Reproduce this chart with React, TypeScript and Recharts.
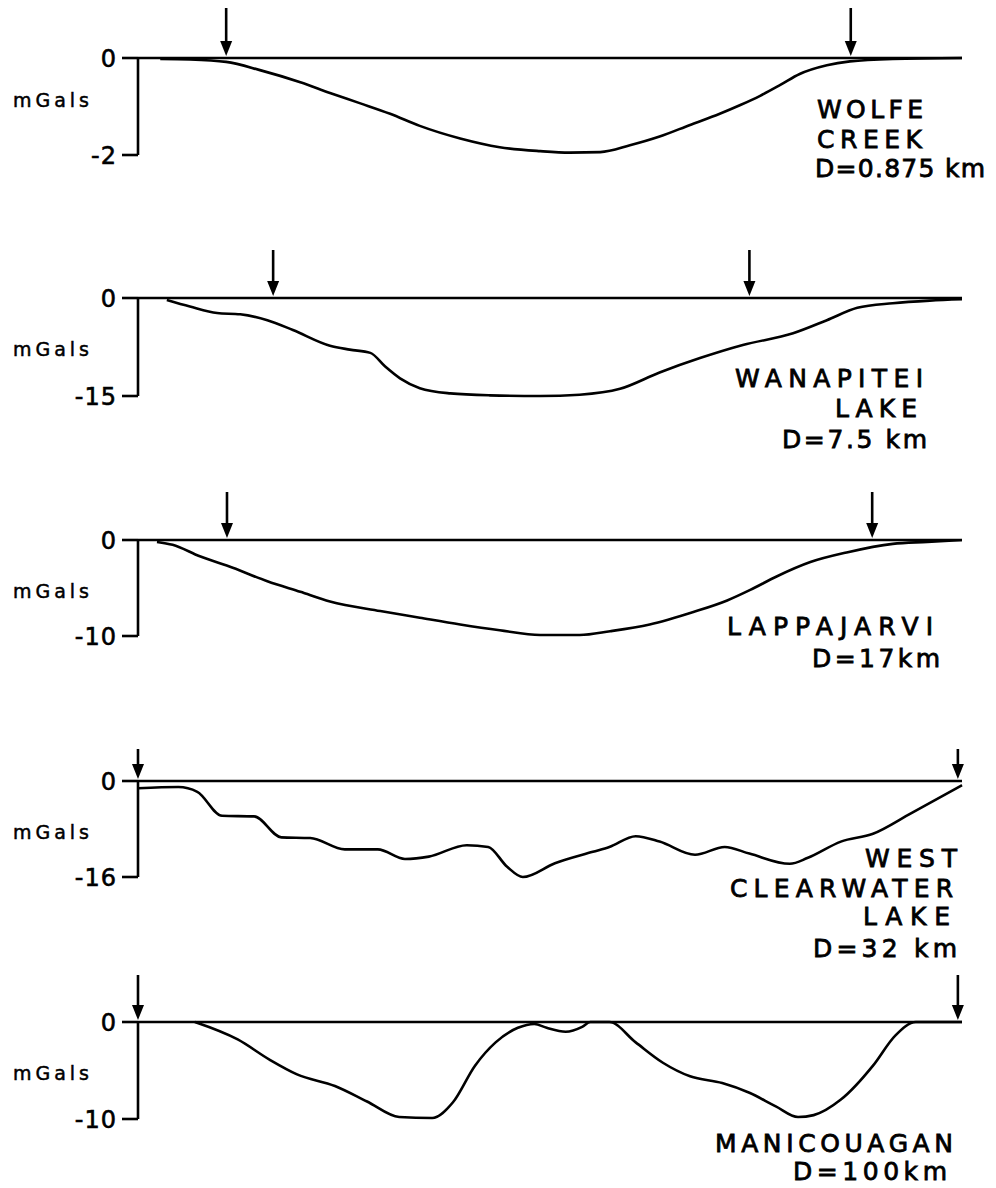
import React from 'react';
import { ComposedChart, Line, Scatter, XAxis, YAxis, ReferenceLine } from 'recharts';

// ---- Data (x: relative profile distance 0..100, y: gravity anomaly in mGal) ----
const wolfeX = [2.7, 6.3, 10.7, 14.8, 19.7, 23.3, 26.9, 30.6, 34.2, 39.1, 43.9, 48.8, 52.4, 56.1, 59.7, 63.3, 67.0, 70.6, 73.1, 75.5, 78.0, 80.3, 83.6, 86.4, 91.6, 100];
const wolfeY = [-0.02, -0.03, -0.08, -0.25, -0.5, -0.72, -0.93, -1.15, -1.4, -1.66, -1.84, -1.92, -1.95, -1.94, -1.8, -1.62, -1.38, -1.15, -0.97, -0.78, -0.55, -0.33, -0.15, -0.07, -0.02, 0];
const wolfeArrows = [10.7, 86.5];
const wolfeTicks = [0, -2];

const wanapiteiX = [3.5, 6.3, 9.6, 12.4, 15.7, 18.8, 23.3, 25.7, 28.2, 30.0, 31.8, 34.2, 37.9, 42.7, 48.8, 53.6, 58.5, 63.3, 68.2, 73.4, 79.5, 83.6, 87.3, 91.6, 96.1, 100];
const wanapiteiY = [-0.3, -1.3, -2.3, -2.5, -3.4, -4.9, -7.3, -7.9, -8.4, -10.5, -12.3, -13.8, -14.6, -14.9, -15.0, -14.8, -13.9, -11.4, -9.2, -7.2, -5.4, -3.4, -1.5, -0.8, -0.4, -0.2];
const wanapiteiArrows = [16.4, 74.2];
const wanapiteiTicks = [0, -15];

const lappajarviX = [2.3, 4.2, 7.5, 11.5, 15.7, 19.7, 23.3, 29.4, 34.2, 39.1, 43.9, 48.8, 53.6, 57.3, 62.1, 67.4, 71.5, 74.3, 77.5, 81.6, 86.0, 91.6, 95.8, 100];
const lappajarviY = [-0.2, -0.5, -1.7, -2.9, -4.3, -5.4, -6.4, -7.4, -8.1, -8.8, -9.4, -9.9, -9.9, -9.5, -8.8, -7.5, -6.3, -5.2, -3.8, -2.3, -1.3, -0.4, -0.2, 0];
const lappajarviArrows = [10.8, 89.1];
const lappajarviTicks = [0, -10];

const clearwaterX = [0, 4.9, 7.2, 10.2, 14.1, 17.4, 20.9, 25.1, 29.1, 32.4, 35.3, 39.9, 42.5, 44.8, 46.7, 50.6, 55.2, 57.2, 60.4, 63.3, 67.6, 71.2, 74.2, 79.1, 81.3, 85.3, 89.2, 93.8, 100];
const clearwaterY = [-1.2, -1.0, -1.8, -5.8, -5.9, -9.4, -9.5, -11.4, -11.4, -13.0, -12.6, -10.7, -11.0, -14.3, -16.0, -13.7, -11.8, -11.0, -9.2, -10.1, -12.3, -11.0, -12.1, -13.8, -12.8, -10.1, -8.8, -5.4, -0.7];
const clearwaterArrows = [0, 99.5];
const clearwaterTicks = [0, -16];

const manicouaganX = [6.9, 12.1, 16.0, 19.3, 23.9, 27.8, 31.7, 35.7, 38.2, 40.9, 43.4, 46.1, 48.1, 49.6, 51.9, 53.9, 54.9, 57.2, 60.4, 63.7, 67.0, 70.9, 74.2, 77.4, 80.1, 82.0, 85.3, 89.2, 91.9, 94.4, 100];
const manicouaganY = [0, -1.8, -3.9, -5.4, -6.6, -8.2, -9.8, -9.9, -8.3, -4.5, -2.1, -0.6, -0.2, -0.6, -1.0, -0.5, 0, 0, -2.1, -4.2, -5.6, -6.3, -7.3, -8.7, -9.8, -9.6, -8.0, -4.5, -1.4, 0, 0];
const manicouaganArrows = [0, 99.5];
const manicouaganTicks = [0, -10];

const craterNames = [
  ['WOLFE', 'CREEK', 'D=0.875 km'],
  ['WANAPITEI', 'LAKE', 'D=7.5 km'],
  ['LAPPAJARVI', 'D=17km'],
  ['WEST', 'CLEARWATER', 'LAKE', 'D=32 km'],
  ['MANICOUAGAN', 'D=100km'],
];
const unitLabel = 'mGals';

const zip = (xs: number[], ys: number[]) => xs.map((x, i) => ({ x, y: ys[i] }));

// ---- Layout / style (not data) ----
const FONT = '"DejaVu Sans", "Liberation Sans", Arial, sans-serif';
const W = 996;
const TOP = 56;
const BOTTOM = 30;

const panels = [
  { curve: zip(wolfeX, wolfeY), arrows: wolfeArrows, ticks: wolfeTicks, zeroY: 58, minY: 155, arrowLen: 50, unitY: 107,
    labelPos: [[817, 118, 106], [817, 148, 105], [815, 177, 170]] },
  { curve: zip(wanapiteiX, wanapiteiY), arrows: wanapiteiArrows, ticks: wanapiteiTicks, zeroY: 298, minY: 396, arrowLen: 48, unitY: 356,
    labelPos: [[735, 387, 188], [835, 417, 82], [782, 448, 145]] },
  { curve: zip(lappajarviX, lappajarviY), arrows: lappajarviArrows, ticks: lappajarviTicks, zeroY: 540, minY: 636, arrowLen: 48, unitY: 598,
    labelPos: [[727, 635, 206], [812, 667, 128]] },
  { curve: zip(clearwaterX, clearwaterY), arrows: clearwaterArrows, ticks: clearwaterTicks, zeroY: 781, minY: 877, arrowLen: 32, unitY: 839,
    labelPos: [[865, 867, 92], [730, 897, 223], [863, 925, 87], [813, 957, 144]] },
  { curve: zip(manicouaganX, manicouaganY), arrows: manicouaganArrows, ticks: manicouaganTicks, zeroY: 1022, minY: 1119, arrowLen: 47, unitY: 1080,
    labelPos: [[715, 1152, 238], [793, 1180, 154]] },
];

const makeArrow = (len: number) => (props: any) => {
  const { cx, cy } = props;
  if (cx == null || cy == null) return <g />;
  const tip = cy - 2;
  return (
    <g>
      <line x1={cx} y1={cy - len} x2={cx} y2={tip - 10} stroke="#000" strokeWidth={2.6} />
      <polygon points={`${cx - 6},${tip - 15} ${cx + 6},${tip - 15} ${cx},${tip}`} fill="#000" />
    </g>
  );
};

function Panel({ p }: { p: (typeof panels)[number] }) {
  const plotH = p.minY - p.zeroY;
  const h = plotH + TOP + BOTTOM;
  const arrowData = p.arrows.map((x) => ({ x, y: 0 }));
  return (
    <div style={{ position: 'absolute', left: 0, top: p.zeroY - TOP, width: W, height: h }}>
      <ComposedChart width={W} height={h} margin={{ top: TOP, right: 34, bottom: BOTTOM, left: 0 }}>
        <XAxis type="number" dataKey="x" domain={[0, 100]} hide />
        <YAxis
          type="number"
          dataKey="y"
          width={138}
          domain={[p.ticks[1], 0]}
          ticks={p.ticks}
          interval={0}
          tickSize={16}
          tickMargin={5}
          axisLine={{ stroke: '#000', strokeWidth: 2.6 }}
          tickLine={{ stroke: '#000', strokeWidth: 2.6 }}
          tick={{ fill: '#000', stroke: '#000', strokeWidth: 0.6, fontSize: 24, fontFamily: FONT, letterSpacing: 1 }}
        />
        <ReferenceLine y={0} stroke="#000" strokeWidth={2.6} />
        <Line
          data={p.curve}
          dataKey="y"
          type="monotone"
          stroke="#000"
          strokeWidth={2.6}
          dot={false}
          activeDot={false}
          isAnimationActive={false}
        />
        <Scatter data={arrowData} dataKey="y" shape={makeArrow(p.arrowLen)} isAnimationActive={false} />
      </ComposedChart>
    </div>
  );
}

export default function App() {
  return (
    <div style={{ position: 'absolute', left: 0, top: 0, width: W, height: 1188, background: '#fff' }}>
      {panels.map((p, i) => (
        <Panel key={i} p={p} />
      ))}
      <svg width={W} height={1188} style={{ position: 'absolute', left: 0, top: 0, pointerEvents: 'none' }}>
        {panels.map((p, i) => (
          <g key={i} fontFamily={FONT} fill="#000" stroke="#000">
            <text x={13} y={p.unitY} fontSize={19} strokeWidth={0.5} textLength={76} lengthAdjust="spacing">
              {unitLabel}
            </text>
            {craterNames[i].map((t, j) => (
              <text
                key={j}
                x={p.labelPos[j][0]}
                y={p.labelPos[j][1]}
                fontSize={25}
                strokeWidth={0.8}
                textLength={p.labelPos[j][2]}
                lengthAdjust="spacing"
              >
                {t}
              </text>
            ))}
          </g>
        ))}
      </svg>
    </div>
  );
}
